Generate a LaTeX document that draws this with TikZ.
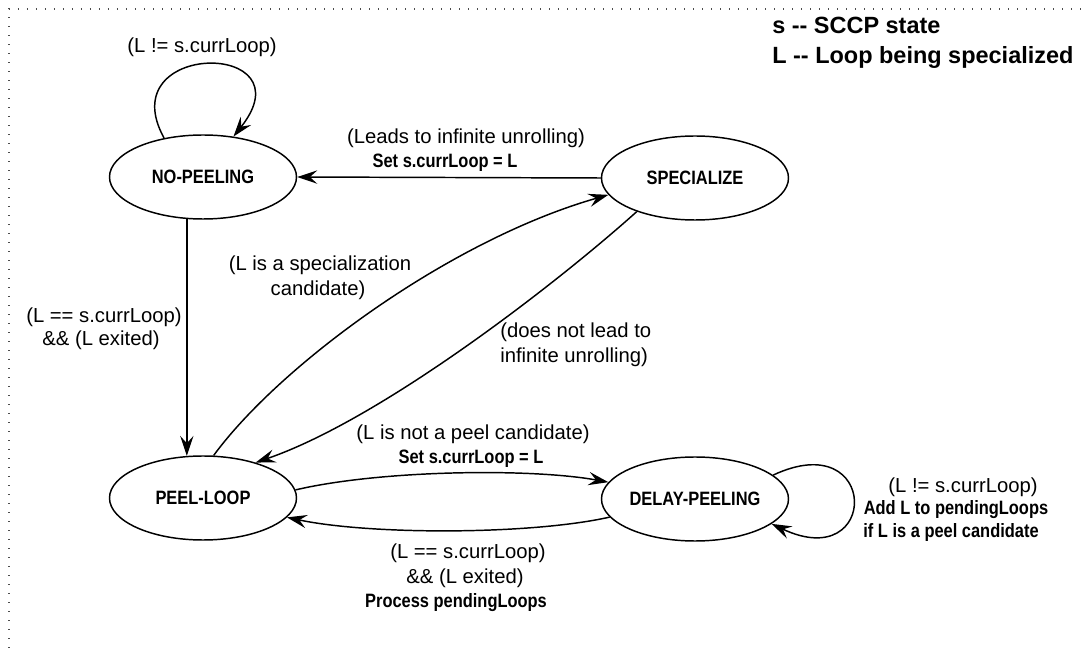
\documentclass[tikz,border=0pt]{standalone}
\usepackage{fontspec}
\setmainfont{Liberation Sans}
\newfontfamily\narrowfont{Liberation Sans}[FakeStretch=0.85]
\usetikzlibrary{shapes.geometric,arrows.meta}

\begin{document}
\begin{tikzpicture}[x=0.75pt,y=-0.75pt,
  state/.style={ellipse, draw, line width=1.1pt, minimum width=140.25pt,
    minimum height=63pt, inner sep=0pt,
    font=\narrowfont\bfseries\fontsize{14.5}{17}\selectfont},
  arr/.style={line width=1.1pt, -{Stealth[length=15pt,width=10pt,inset=5.5pt]}},
  cond/.style={inner sep=0pt, font=\fontsize{15.2}{17}\selectfont},
  act/.style={inner sep=0pt, font=\narrowfont\bfseries\fontsize{14.5}{17}\selectfont},
  key/.style={inner sep=0pt, anchor=west, font=\bfseries\fontsize{17.6}{20}\selectfont},
  frame/.style={line width=0.9pt, dash pattern=on 0.9pt off 5.85pt, black!70}
]
\useasboundingbox (0,0) rectangle (1083,648);

% dotted page frame (top and left edges)
\draw[frame] (9,648) -- (9,9) -- (1083,9);

% states
\node[state] (np) at (203,177) {NO-PEELING};
\node[state] (sp) at (695,178) {SPECIALIZE};
\node[state] (pl) at (203,498) {PEEL-LOOP};
\node[state] (dp) at (695,499) {DELAY-PEELING};

% transitions
\draw[arr] (np.135.7) .. controls (110,40) and (310,40) .. (np.53.4);
\draw[arr] (sp.west) -- (np.east);
\draw[arr] (np.-111) -- (pl.111);
\draw[arr] (pl.76) .. controls (280,365) and (450,240) .. (sp.191);
\draw[arr] (sp.-150) .. controls (555,285) and (380,420) .. (pl.34);
\draw[arr] (pl.5) .. controls (380,470) and (530,468) .. (dp.169);
\draw[arr] (dp.192) .. controls (530,535) and (370,535) .. (pl.-13);
\draw[arr] (dp.17) .. controls (880,425) and (880,575) .. (dp.-18);

% transition labels
\node[cond] (l1) at (202,47) {(L != s.currLoop)};
\node[cond] (l2) at (466,138) {(Leads to infinite unrolling)};
\node[act] (l3) at (445,163) {Set s.currLoop = L};
\node[cond] (l4) at (104,317) {(L == s.currLoop)};
\node[cond] (l5) at (101,340) {\&\& (L exited)};
\node[cond] (l6) at (320,265) {(L is a specialization};
\node[cond] (l7) at (318,290) {candidate)};
\node[cond,anchor=west] (l8) at (500,332) {(does not lead to};
\node[cond,anchor=west] (l9) at (500,357) {infinite unrolling)};
\node[cond] (l10) at (473,434) {(L is not a peel candidate)};
\node[act] (l11) at (471,459) {Set s.currLoop = L};
\node[cond] (l12) at (468,553) {(L == s.currLoop)};
\node[cond] (l13) at (465,578) {\&\& (L exited)};
\node[act] (l14) at (456,603) {Process pendingLoops};
\node[cond] (l15) at (963,487) {(L != s.currLoop)};
\node[act] (l16) at (956,510) {Add L to pendingLoops};
\node[act] (l17) at (951,533) {if L is a peel candidate};

% legend
\node[key] (k1) at (772,25) {s -{}- SCCP state};
\node[key] (k2) at (772,57) {L -{}- Loop being specialized};
\end{tikzpicture}
\end{document}
